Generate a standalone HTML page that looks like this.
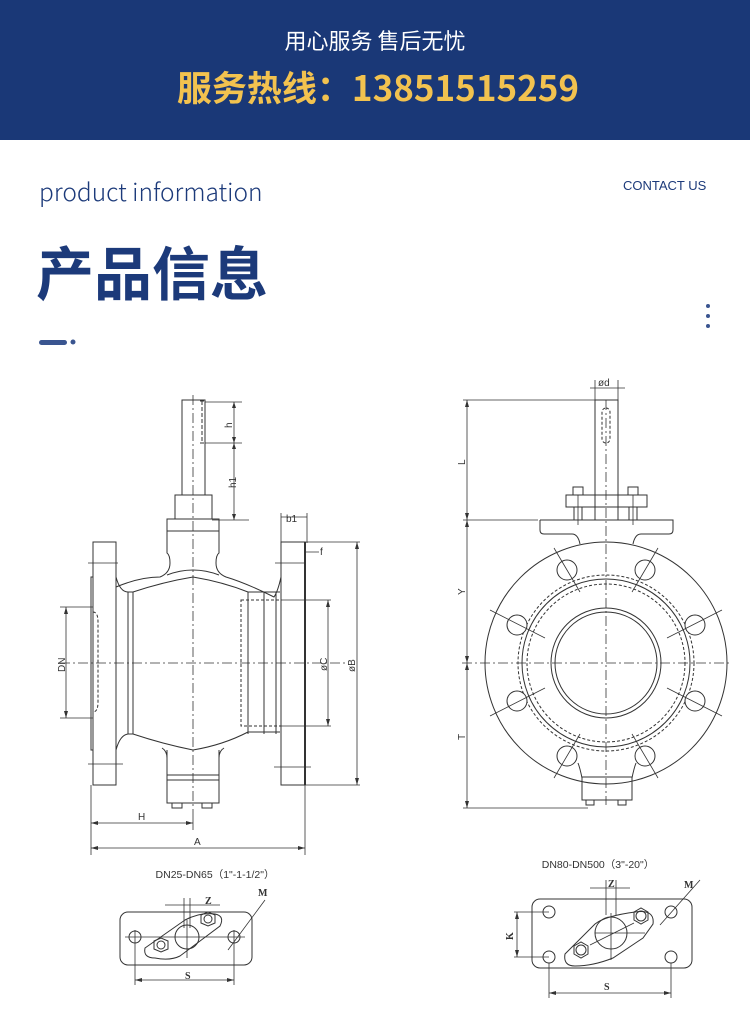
<!DOCTYPE html>
<html><head><meta charset="utf-8"><style>
html,body{margin:0;padding:0;background:#fff;}
body{width:750px;height:1013px;position:relative;overflow:hidden;font-family:"Liberation Sans","Noto Sans CJK SC",sans-serif;}
.hdr{position:absolute;left:0;top:0;width:750px;height:140px;background:#1a3877;}
.t1{position:absolute;left:0;width:750px;top:24px;text-align:center;color:#fff;font-size:22px;font-family:"Noto Sans CJK SC",sans-serif;}
.t2{position:absolute;left:0;width:756px;top:61px;text-align:center;color:#f2c24f;font-size:35px;font-weight:bold;font-family:"Noto Sans CJK SC",sans-serif;}
.pi{position:absolute;left:39px;top:174px;color:#1c3a7a;font-size:24.5px;font-family:"Noto Sans CJK SC",sans-serif;font-weight:300;}
.cu{position:absolute;left:623px;top:178px;color:#1c3a7a;font-size:13px;}
.cn{position:absolute;left:36px;top:228px;color:#1c3a7a;font-size:58px;font-weight:bold;font-family:"Noto Sans CJK SC",sans-serif;letter-spacing:0px;}
svg{position:absolute;left:0;top:0;}
</style></head><body>
<div class="hdr"></div>
<div class="t1">用心服务 售后无忧</div>
<div class="t2">服务热线：13851515259</div>
<div class="pi">product information</div>
<div class="cu">CONTACT US</div>
<div class="cn">产品信息</div>
<svg width="750" height="1013" viewBox="0 0 750 1013" font-family="Liberation Sans, sans-serif">
<rect x="39" y="340" width="28" height="5" rx="2.5" fill="#3a5590"/>
<circle cx="73" cy="342" r="2.5" fill="#3a5590"/>
<circle cx="708" cy="306" r="2" fill="#3a5590"/><circle cx="708" cy="316" r="2" fill="#3a5590"/><circle cx="708" cy="326" r="2" fill="#3a5590"/>
<g stroke="#333" stroke-width="1" fill="none">
<rect x="182" y="400" width="23" height="95"/>
<path d="M200 401 h4 M200 443 h4" /><line x1="202" y1="401" x2="202" y2="443" stroke-dasharray="4,2"/>
<rect x="175" y="495" width="37" height="24"/>
<path d="M167 519 h52 v12 h-52 z"/>
<path d="M167 531 v22 q3 2 3 10 q0 10 -10 14 q-20 0 -44 10"/>
<path d="M219 531 v22 q-3 2 -3 10 q0 10 10 14 q20 6 48 20 q4 -6 7 -20"/>
<path d="M167 575 q26 -10 52 0" />
<path d="M116 577 q4 15 12 15 h5 q30 -10 60 -15 q30 5 55 15 h32"/>
<path d="M116 750 q4 -15 12 -16 h5 q30 10 60 16 q30 -5 55 -18 h32"/>
<path d="M167 750 v25 M219 750 v25 M162 748 q5 3 5 10 M224 748 q-5 3 -5 10"/>
<rect x="167" y="775" width="52" height="28"/>
<line x1="167" y1="780" x2="219" y2="780"/>
<rect x="172" y="803" width="10" height="5"/><rect x="202" y="803" width="10" height="5"/>
<rect x="93" y="542" width="23" height="243"/>
<rect x="91" y="577" width="2" height="173"/>
<path d="M93 612 q5 0 5 10 v80 q0 10 -5 10" stroke-dasharray="3,2"/>
<line x1="133" y1="592" x2="133" y2="734"/><line x1="128" y1="592" x2="128" y2="734"/>
<rect x="281" y="542" width="24" height="243"/>
<line x1="305" y1="542" x2="305" y2="785" stroke-width="2"/>
<line x1="248" y1="592" x2="248" y2="734"/><line x1="264" y1="592" x2="264" y2="734"/>
<rect x="241" y="600" width="40" height="126" stroke-dasharray="3,2"/>
<line x1="276" y1="592" x2="276" y2="734"/>
</g>
<g stroke="#333" stroke-width="0.8" fill="none">
<line x1="193" y1="395" x2="193" y2="815" stroke-dasharray="10,3,2,3"/>
<line x1="60" y1="663" x2="345" y2="663" stroke-dasharray="10,3,2,3"/>
<path d="M88 563 h30 M88 764 h35 M275 563 h30 M274 767 h37"/>
<path d="M205 402 h37 M205 443 h37 M212 520 h37 M234 402 v118"/>
<path d="M281 513 v30 M307 513 v30 M281 517 h26 M290 517 l-9 0 M305 552 h14"/>
<path d="M305 542 h55 M305 785 h55 M357 542 v243 M281 600 h50 M281 726 h50 M328 600 v126"/>
<path d="M60 607 h33 M60 718 h33 M66 607 v111"/>
<path d="M91 785 v70 M305 785 v70 M193 815 v15 M91 823 h102 M91 848 h214"/>
</g>
<g fill="#333">
<path d="M234 402 l-2 6 h4z M234 443 l-2 -6 h4z M234 443 l-2 6 h4z M234 520 l-2 -6 h4z"/>
<path d="M357 542 l-2 7 h4z M357 785 l-2 -7 h4z M328 600 l-2 7 h4z M328 726 l-2 -7 h4z M66 607 l-2 7 h4z M66 718 l-2 -7 h4z"/>
<path d="M91 823 l7 -2 v4z M193 823 l-7 -2 v4z M91 848 l7 -2 v4z M305 848 l-7 -2 v4z"/>
</g>
<g font-size="10" fill="#333">
<text x="232" y="428" transform="rotate(-90 232 428)" font-size="10">h</text>
<text x="236" y="488" transform="rotate(-90 236 488)">h1</text>
<text x="286" y="522">b1</text>
<text x="320" y="555">f</text>
<text x="355" y="672" transform="rotate(-90 355 672)">øB</text>
<text x="327" y="671" transform="rotate(-90 327 671)">øC</text>
<text x="65" y="672" transform="rotate(-90 65 672)">DN</text>
<text x="138" y="820">H</text>
<text x="194" y="845">A</text>
</g>
<g stroke="#333" stroke-width="1" fill="none">
<circle cx="606" cy="663" r="121"/>
<circle cx="606" cy="663" r="55"/>
<circle cx="606" cy="663" r="51"/>
<circle cx="606" cy="663" r="88" stroke-dasharray="3,2"/>
<circle cx="606" cy="663" r="84"/>
<circle cx="606" cy="663" r="79" stroke-dasharray="3,2"/>
<circle cx="567" cy="570" r="10" fill="#fff"/><circle cx="645" cy="570" r="10" fill="#fff"/>
<circle cx="517" cy="625" r="10" fill="#fff"/><circle cx="695" cy="625" r="10" fill="#fff"/>
<circle cx="517" cy="701" r="10" fill="#fff"/><circle cx="695" cy="701" r="10" fill="#fff"/>
<circle cx="567" cy="756" r="10" fill="#fff"/><circle cx="645" cy="756" r="10" fill="#fff"/>
<rect x="595" y="400" width="23" height="120"/>
<rect x="602" y="408" width="8" height="35" rx="4" stroke-dasharray="3,2"/>
<path d="M540 520 h133 v10 q0 4 -4 4 h-28 q-6 0 -8 10 M540 520 v10 q0 4 4 4 h28 q6 0 8 10"/>
<rect x="566" y="495" width="81" height="12"/>
<rect x="573" y="487" width="10" height="8"/><rect x="628" y="487" width="10" height="8"/>
<rect x="574" y="507" width="8" height="13"/><rect x="629" y="507" width="8" height="13"/>
<rect x="582" y="777" width="50" height="23"/>
<path d="M582 778 q-2 -10 -4 -15 M632 778 q2 -10 4 -15"/>
<rect x="586" y="800" width="8" height="5"/><rect x="618" y="800" width="8" height="5"/>
</g>
<g stroke="#333" stroke-width="0.8" fill="none">
<line x1="606" y1="400" x2="606" y2="805" stroke-dasharray="10,3,2,3"/>
<line x1="462" y1="663" x2="730" y2="663" stroke-dasharray="10,3,2,3"/>
<path d="M578 495 v30 M633 495 v30"/>
<path d="M554 548 l26 44 M658 548 l-26 44 M490 610 l55 28 M722 610 l-55 28 M490 716 l55 -28 M722 716 l-55 -28 M554 778 l26 -44 M658 778 l-26 -44"/>
<path d="M463 400 h132 M463 520 h75 M463 808 h125 M467 400 v408 M595 380 v20 M618 380 v20 M590 388 h35"/>
</g>
<g fill="#333">
<path d="M467 400 l-2 7 h4z M467 520 l-2 -7 h4z M467 520 l-2 7 h4z M467 663 l-2 -7 h4z M467 663 l-2 7 h4z M467 808 l-2 -7 h4z"/>
</g>
<g font-size="10" fill="#333">
<text x="465" y="465" transform="rotate(-90 465 465)">L</text>
<text x="465" y="595" transform="rotate(-90 465 595)">Y</text>
<text x="465" y="740" transform="rotate(-90 465 740)">T</text>
<text x="598" y="386">ød</text>
<text x="215" y="878" text-anchor="middle" font-size="10.5">DN25-DN65（1"-1-1/2"）</text>
<text x="598" y="868" text-anchor="middle" font-size="10.5">DN80-DN500（3"-20"）</text>
<text x="185" y="979" font-weight="bold" font-family="Liberation Serif, serif">S</text>
<text x="205" y="904" font-weight="bold" font-family="Liberation Serif, serif">Z</text>
<text x="604" y="990" font-weight="bold" font-family="Liberation Serif, serif">S</text>
<text x="608" y="887" font-weight="bold" font-family="Liberation Serif, serif">Z</text>
<text x="513" y="940" font-weight="bold" transform="rotate(-90 513 940)" font-family="Liberation Serif, serif">K</text>
<text x="258" y="896" font-weight="bold" font-family="Liberation Serif, serif">M</text>
<text x="684" y="888" font-weight="bold" font-family="Liberation Serif, serif">M</text>
</g>
<g stroke="#333" stroke-width="1" fill="none">
<rect x="120" y="912" width="132" height="53" rx="8"/>
<circle cx="135" cy="937" r="6"/><circle cx="234" cy="937" r="6"/>
<path d="M155 958 q-12 0 -10 -10 l40 -28 q15 -8 30 -6 q10 2 5 12 l-40 30 q-10 5 -25 2z"/>
<circle cx="187" cy="937" r="12"/>
<path d="M154 941 l7 -3 l7 3 v8 l-7 3 l-7 -3z M201 915 l7 -3 l7 3 v8 l-7 3 l-7 -3z"/>
<circle cx="161" cy="945" r="4"/><circle cx="208" cy="919" r="4"/>
</g>
<g stroke="#333" stroke-width="0.8" fill="none">
<path d="M125 937 h120 M187 920 v38 M135 930 v15 M234 930 v15"/>
<path d="M135 945 v40 M234 945 v40 M135 980 h99 M165 905 h55 M184 898 v30 M190 898 v30"/>
<path d="M228 950 l37 -50"/>
</g>
<g fill="#333"><path d="M135 980 l7 -2 v4z M234 980 l-7 -2 v4z"/></g>
<g stroke="#333" stroke-width="1" fill="none">
<rect x="532" y="899" width="160" height="69" rx="8"/>
<circle cx="549" cy="912" r="6"/><circle cx="671" cy="912" r="6"/>
<circle cx="549" cy="957" r="6"/><circle cx="671" cy="957" r="6"/>
<path d="M575 966 q-12 0 -10 -12 l30 -30 q10 -8 40 -12 q20 -3 18 12 l-10 14 l-30 20 q-20 8 -38 8z"/>
<circle cx="611" cy="933" r="16"/>
<path d="M574 946 l7 -4 l7 4 v8 l-7 4 l-7 -4z M634 912 l7 -4 l7 4 v8 l-7 4 l-7 -4z"/>
<circle cx="581" cy="950" r="5"/><circle cx="641" cy="916" r="5"/>
</g>
<g stroke="#333" stroke-width="0.8" fill="none">
<path d="M590 945 l44 -22 M595 933 h50 M611 913 v47"/>
<path d="M514 912 h35 M514 957 h35 M517 912 v45"/>
<path d="M549 963 v35 M671 963 v35 M549 993 h122 M590 888 h40 M606 880 v35 M616 880 v35"/>
<path d="M660 925 l40 -45"/>
</g>
<g fill="#333"><path d="M549 993 l7 -2 v4z M671 993 l-7 -2 v4z M517 912 l-2 7 h4z M517 957 l-2 -7 h4z"/></g>
</svg>
</body></html>
